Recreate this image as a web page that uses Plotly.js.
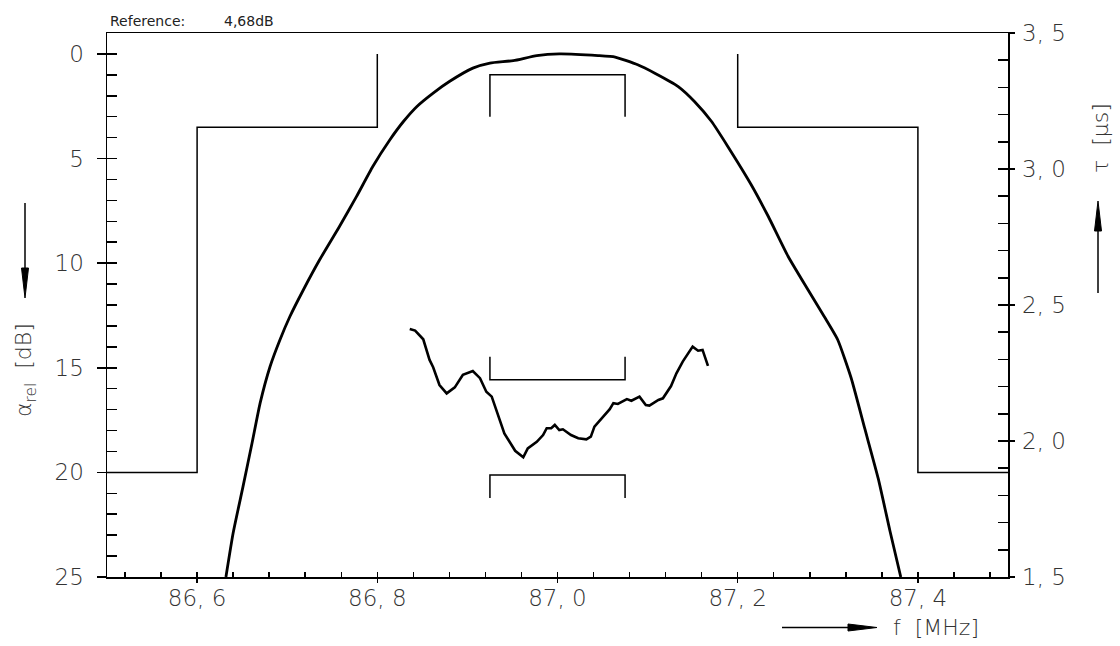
<!DOCTYPE html>
<html>
<head>
<meta charset="utf-8">
<script src="https://cdn.plot.ly/plotly-3.0.1.min.js"></script>
<style>html,body{margin:0;padding:0;background:#fff;}#chart{width:1120px;height:646px;}</style>
</head>
<body>
<div id="chart"></div>
<script>
// ---- data ----
// attenuation (left axis, dB, relative)
const attF = [86.632, 86.640, 86.651, 86.661, 86.670, 86.681, 86.692, 86.703, 86.718, 86.736, 86.758, 86.777, 86.795, 86.814, 86.829, 86.844, 86.862, 86.880, 86.906, 86.925, 86.951, 86.977, 87.002, 87.045, 87.064, 87.089, 87.108, 87.134, 87.152, 87.171, 87.189, 87.215, 87.234, 87.256, 87.278, 87.296, 87.311, 87.326, 87.341, 87.356, 87.369, 87.381];
const attDb = [25.0, 22.90, 20.67, 18.60, 16.68, 14.94, 13.66, 12.55, 11.27, 9.84, 8.25, 6.81, 5.38, 4.10, 3.23, 2.51, 1.87, 1.32, 0.68, 0.44, 0.32, 0.08, 0.0, 0.08, 0.15, 0.52, 0.92, 1.56, 2.27, 3.23, 4.42, 6.25, 7.77, 9.68, 11.27, 12.55, 13.66, 15.5, 17.9, 20.3, 22.8, 25.0];
// group delay (right axis, µs)
const tauF = [86.836, 86.842, 86.851, 86.858, 86.862, 86.869, 86.877, 86.886, 86.895, 86.906, 86.914, 86.921, 86.927, 86.934, 86.941, 86.953, 86.962, 86.967, 86.977, 86.984, 86.988, 86.993, 86.997, 87.002, 87.006, 87.015, 87.023, 87.032, 87.037, 87.041, 87.051, 87.058, 87.062, 87.067, 87.077, 87.082, 87.091, 87.098, 87.102, 87.112, 87.117, 87.126, 87.132, 87.139, 87.150, 87.156, 87.161, 87.167];
const tauUs = [2.412, 2.406, 2.374, 2.298, 2.271, 2.206, 2.175, 2.197, 2.243, 2.257, 2.231, 2.181, 2.163, 2.096, 2.028, 1.964, 1.940, 1.973, 1.997, 2.022, 2.047, 2.047, 2.059, 2.040, 2.043, 2.022, 2.010, 2.006, 2.016, 2.053, 2.092, 2.117, 2.139, 2.136, 2.154, 2.148, 2.163, 2.132, 2.130, 2.151, 2.157, 2.202, 2.249, 2.292, 2.347, 2.332, 2.335, 2.276];
// stop-band tolerance mask (left axis)
const maskLeftF = [86.5, 86.6, 86.6, 86.8, 86.8];
const maskLeftDb = [20, 20, 3.5, 3.5, 0];
const maskRightF = [87.2, 87.2, 87.4, 87.4, 87.5];
const maskRightDb = [0, 3.5, 3.5, 20, 20];
// pass-band brackets
const passF = [86.925, 86.925, 87.075, 87.075];
const passAttDb = [3, 1, 1, 3];
const passTauUpper = [2.31, 2.225, 2.225, 2.31];
const passTauLower = [1.79, 1.875, 1.875, 1.79];
// ticks
const xTickVals = [86.6, 86.8, 87.0, 87.2, 87.4];
const xTickText = ['86, 6', '86, 8', '87, 0', '87, 2', '87, 4'];
const yTickVals = [0, 5, 10, 15, 20, 25];
const yTickText = ['0', '5', '10', '15', '20', '25'];
const y2TickVals = [1.5, 2.0, 2.5, 3.0, 3.5];
const y2TickText = ['1, 5', '2, 0', '2, 5', '3, 0', '3, 5'];
const referenceLabel = 'Reference:';
const referenceValue = '4,68dB';

// ---- layout helpers ----
const W = 1120, H = 646, ML = 107, MR = 112, MT = 33, MB = 69;
const PW = W - ML - MR, PH = H - MT - MB;
const px = x => (x - ML) / PW;
const py = y => (H - MB - y) / PH;

const FONT = 'DejaVu Sans';
const TXT = '#333';
const tickFont = {family: FONT, size: 23, color: TXT, weight: 300};

const thin = {color: '#000', width: 1.5};
const traces = [
  {x: maskLeftF, y: maskLeftDb, mode: 'lines', line: thin, xaxis: 'x', yaxis: 'y'},
  {x: maskRightF, y: maskRightDb, mode: 'lines', line: thin, xaxis: 'x', yaxis: 'y'},
  {x: passF, y: passAttDb, mode: 'lines', line: thin, xaxis: 'x', yaxis: 'y'},
  {x: passF, y: passTauUpper, mode: 'lines', line: thin, xaxis: 'x', yaxis: 'y2'},
  {x: passF, y: passTauLower, mode: 'lines', line: thin, xaxis: 'x', yaxis: 'y2'},
  {x: attF, y: attDb, mode: 'lines', line: {color: '#000', width: 2.8, shape: 'spline', smoothing: 0.5}, xaxis: 'x', yaxis: 'y'},
  {x: tauF, y: tauUs, mode: 'lines', line: {color: '#000', width: 2.6}, xaxis: 'x', yaxis: 'y2'},
  {x: [null], y: [null], mode: 'lines', xaxis: 'x2', yaxis: 'y3'},
  {x: [null], y: [null], mode: 'lines', xaxis: 'x', yaxis: 'y4'}
].map(t => Object.assign({showlegend: false, hoverinfo: 'skip'}, t));

const baseAx = {showgrid: false, zeroline: false, fixedrange: true};

const layout = {
  width: W, height: H,
  margin: {l: ML, r: MR, t: MT, b: MB, pad: 0},
  paper_bgcolor: '#fff', plot_bgcolor: '#fff',
  showlegend: false,
  font: {family: FONT, color: TXT},
  xaxis: Object.assign({}, baseAx, {
    range: [86.5, 87.5], tickmode: 'array', tickvals: xTickVals, ticktext: xTickText,
    ticks: 'inside', ticklen: 5, tickwidth: 1.5, tickcolor: '#000',
    showline: true, linecolor: '#000', linewidth: 1.5, mirror: true,
    tickfont: tickFont, ticklabelstandoff: 0
  }),
  xaxis2: Object.assign({}, baseAx, {
    overlaying: 'x', anchor: 'y', side: 'bottom', range: [86.5, 87.5],
    tickmode: 'linear', tick0: 86.6, dtick: 0.2,
    ticks: 'outside', ticklen: 5, tickwidth: 1.5, tickcolor: '#000',
    minor: {ticks: 'inside', tick0: 86.6, dtick: 0.04, ticklen: 5, tickwidth: 1.5, tickcolor: '#000'},
    showticklabels: false, showline: false
  }),
  yaxis: Object.assign({}, baseAx, {
    range: [25, -1], tickmode: 'array', tickvals: yTickVals, ticktext: yTickText,
    ticks: 'outside', ticklen: 9, tickwidth: 1.5, tickcolor: '#000',
    showline: true, linecolor: '#000', linewidth: 1.5,
    tickfont: tickFont, ticklabelstandoff: 8
  }),
  yaxis2: Object.assign({}, baseAx, {
    overlaying: 'y', anchor: 'x', side: 'right', range: [1.5, 3.5],
    tickmode: 'array', tickvals: y2TickVals, ticktext: y2TickText,
    ticks: 'outside', ticklen: 5, tickwidth: 1.5, tickcolor: '#000',
    showline: true, linecolor: '#000', linewidth: 1.5,
    tickfont: tickFont, ticklabelstandoff: 3
  }),
  yaxis3: Object.assign({}, baseAx, {
    overlaying: 'y', anchor: 'x', side: 'left', range: [25, -1],
    tickmode: 'linear', tick0: 0, dtick: 1,
    ticks: 'inside', ticklen: 10, tickwidth: 1.5, tickcolor: '#000',
    showticklabels: false, showline: false
  }),
  yaxis4: Object.assign({}, baseAx, {
    overlaying: 'y', anchor: 'x', side: 'right', range: [1.5, 3.5],
    tickmode: 'linear', tick0: 1.5, dtick: 0.1,
    ticks: 'inside', ticklen: 10, tickwidth: 1.5, tickcolor: '#000',
    showticklabels: false, showline: false
  }),
  annotations: [
    {text: referenceLabel, xref: 'paper', yref: 'paper', x: px(108), y: py(21), xanchor: 'left', yanchor: 'middle', showarrow: false, font: {family: FONT, size: 14, color: '#222'}},
    {text: referenceValue, xref: 'paper', yref: 'paper', x: px(222), y: py(21), xanchor: 'left', yanchor: 'middle', showarrow: false, font: {family: FONT, size: 14, color: '#222'}},
    {text: 'α<sub>rel</sub>  [dB]', xref: 'paper', yref: 'paper', x: px(25), y: py(370), xanchor: 'center', yanchor: 'middle', textangle: -90, showarrow: false, font: {family: FONT, size: 22, color: TXT, weight: 300}},
    {text: 'τ  [µs]', xref: 'paper', yref: 'paper', x: px(1100), y: py(138), xanchor: 'center', yanchor: 'middle', textangle: -90, showarrow: false, font: {family: FONT, size: 22, color: TXT, weight: 300}},
    {text: 'f  [MHz]', xref: 'paper', yref: 'paper', x: px(936), y: py(627), xanchor: 'center', yanchor: 'middle', showarrow: false, font: {family: FONT, size: 22, color: TXT, weight: 300}}
  ],
  shapes: [
    // left arrow (down)
    {type: 'line', xref: 'paper', yref: 'paper', x0: px(25), x1: px(25), y0: py(203), y1: py(272), line: {color: '#000', width: 1.5}},
    {type: 'path', xref: 'paper', yref: 'paper', path: `M ${px(21.5)} ${py(268)} L ${px(28.5)} ${py(268)} L ${px(25)} ${py(298)} Z`, fillcolor: '#000', line: {color: '#000', width: 1}},
    // right arrow (up)
    {type: 'line', xref: 'paper', yref: 'paper', x0: px(1098), x1: px(1098), y0: py(293), y1: py(228), line: {color: '#000', width: 1.5}},
    {type: 'path', xref: 'paper', yref: 'paper', path: `M ${px(1094.5)} ${py(231)} L ${px(1101.5)} ${py(231)} L ${px(1098)} ${py(201)} Z`, fillcolor: '#000', line: {color: '#000', width: 1}},
    // bottom arrow (right)
    {type: 'line', xref: 'paper', yref: 'paper', x0: px(782), x1: px(852), y0: py(627.5), y1: py(627.5), line: {color: '#000', width: 1.5}},
    {type: 'path', xref: 'paper', yref: 'paper', path: `M ${px(848)} ${py(624)} L ${px(848)} ${py(631)} L ${px(877)} ${py(627.5)} Z`, fillcolor: '#000', line: {color: '#000', width: 1}}
  ]
};

Plotly.newPlot('chart', traces, layout, {staticPlot: true, displayModeBar: false});
</script>
</body>
</html>
